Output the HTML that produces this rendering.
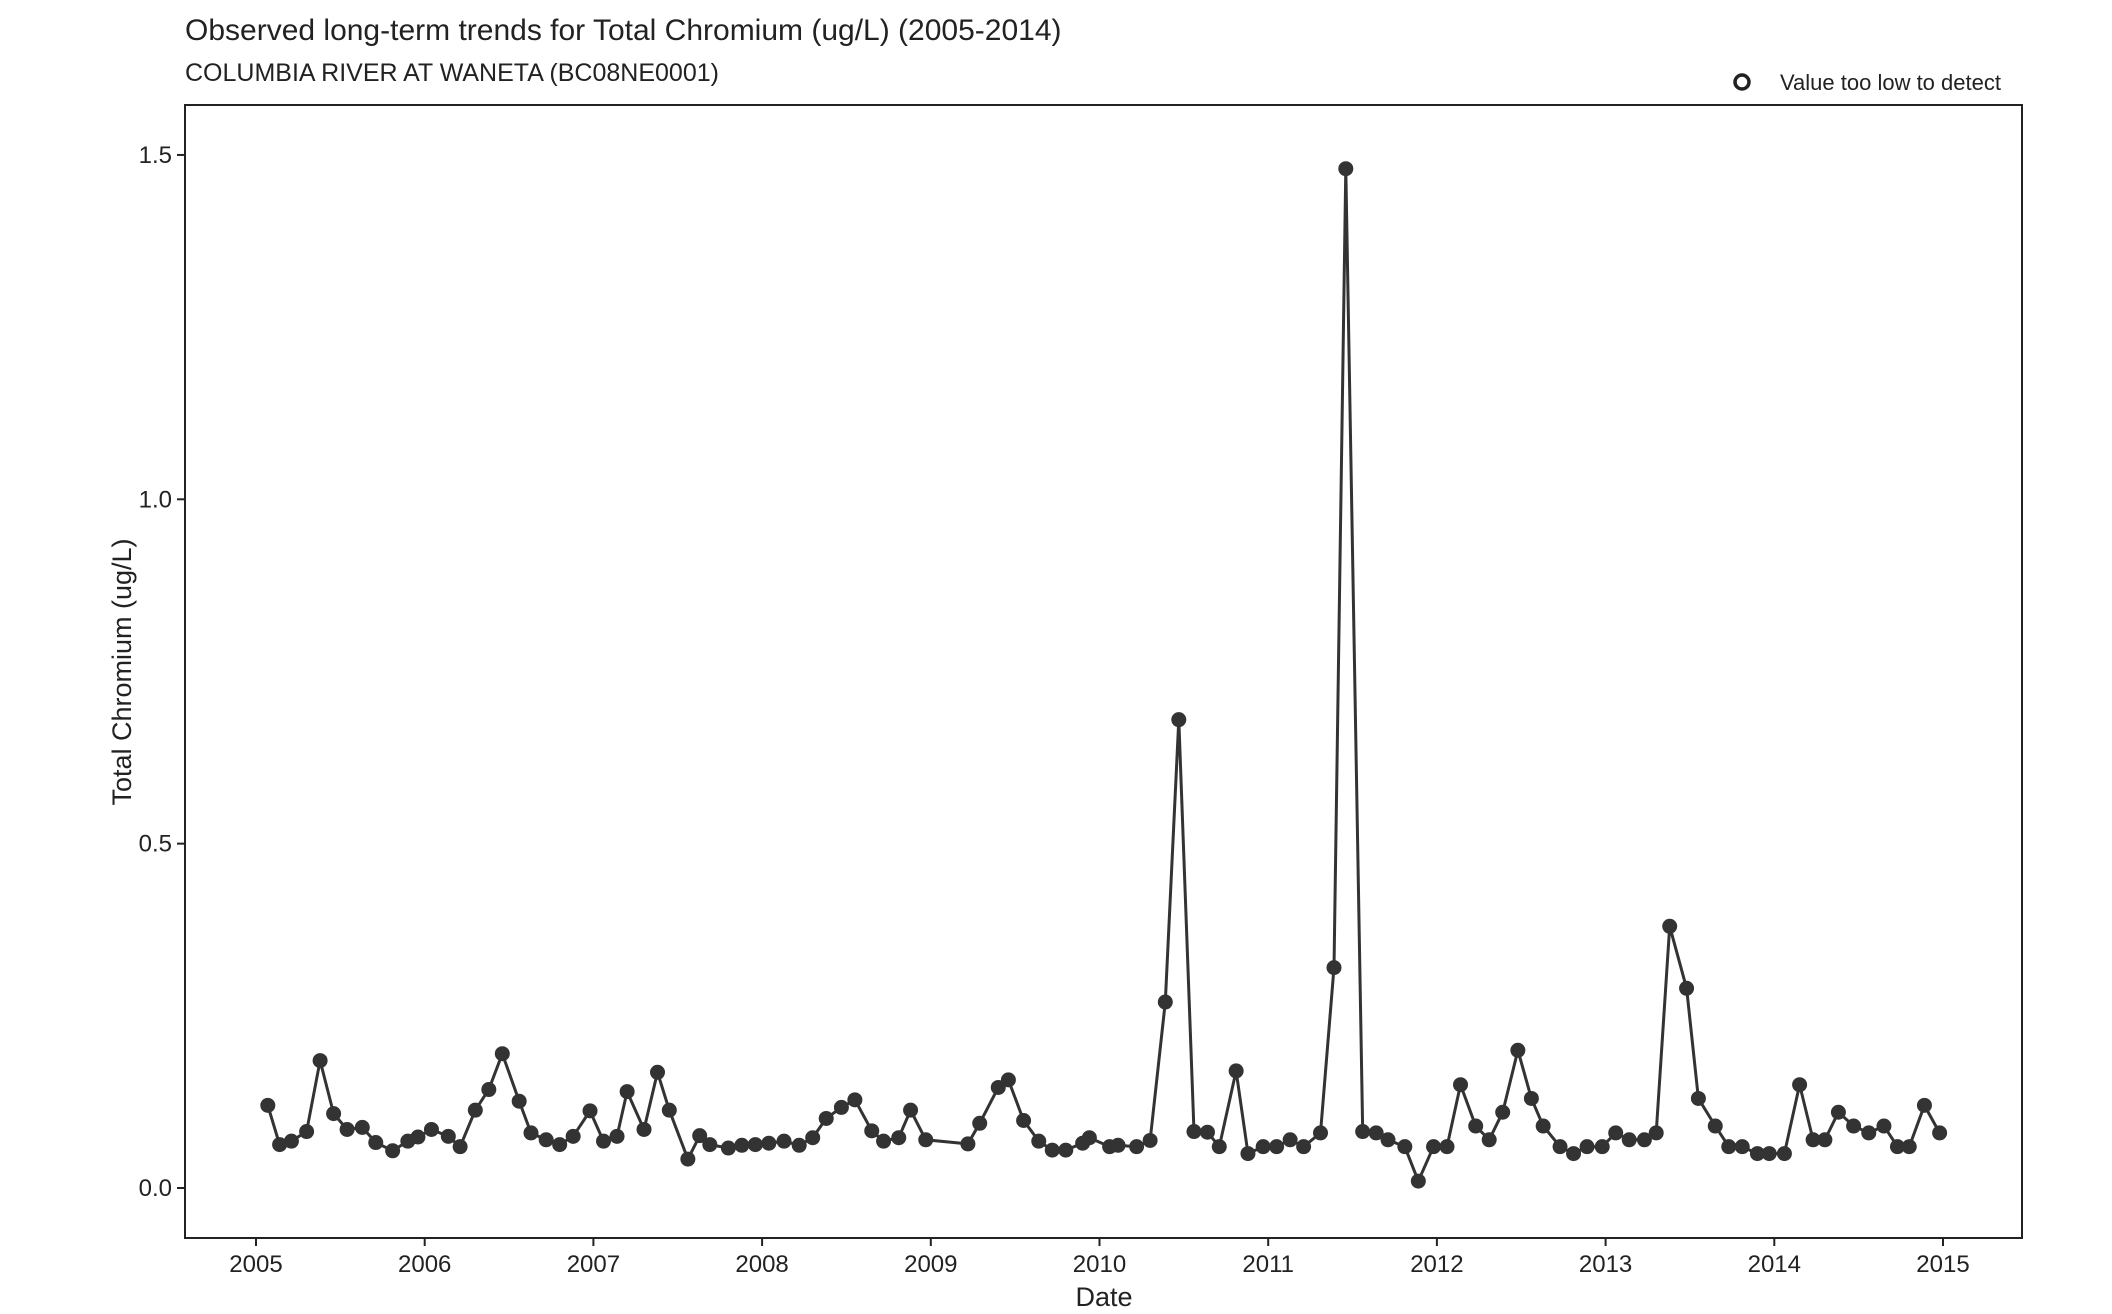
<!DOCTYPE html>
<html><head><meta charset="utf-8"><style>
body{margin:0;background:#fff;}
svg text{font-family:"Liberation Sans",sans-serif;fill:#222;}
</style></head><body>
<svg width="2112" height="1309" viewBox="0 0 2112 1309" xmlns="http://www.w3.org/2000/svg">
<rect width="2112" height="1309" fill="#fff"/>
<text x="185" y="40" font-size="30">Observed long-term trends for Total Chromium (ug/L) (2005-2014)</text>
<text x="185" y="81" font-size="25">COLUMBIA RIVER AT WANETA (BC08NE0001)</text>
<g>
<circle cx="1742" cy="82" r="7" fill="#fff" stroke="#222" stroke-width="3.5"/>
<text x="1780" y="90" font-size="22">Value too low to detect</text>
</g>
<rect x="185" y="105" width="1837" height="1133" fill="none" stroke="#222" stroke-width="2"/>
<g id="axes"></g>
<g id="marks"></g>
<text x="1104" y="1306" font-size="27" text-anchor="middle">Date</text>
<text transform="translate(131,672) rotate(-90)" font-size="27" text-anchor="middle">Total Chromium (ug/L)</text>
</svg>
<script>
const dates=[2005.07,2005.14,2005.21,2005.30,2005.38,2005.46,2005.54,2005.63,2005.71,2005.81,2005.90,2005.96,2006.04,2006.14,2006.21,2006.30,2006.38,2006.46,2006.56,2006.63,2006.72,2006.80,2006.88,2006.98,2007.06,2007.14,2007.20,2007.30,2007.38,2007.45,2007.56,2007.63,2007.69,2007.80,2007.88,2007.96,2008.04,2008.13,2008.22,2008.30,2008.38,2008.47,2008.55,2008.65,2008.72,2008.81,2008.88,2008.97,2009.22,2009.29,2009.40,2009.46,2009.55,2009.64,2009.72,2009.80,2009.90,2009.94,2010.06,2010.11,2010.22,2010.30,2010.39,2010.47,2010.56,2010.64,2010.71,2010.81,2010.88,2010.97,2011.05,2011.13,2011.21,2011.31,2011.39,2011.46,2011.56,2011.64,2011.71,2011.81,2011.89,2011.98,2012.06,2012.14,2012.23,2012.31,2012.39,2012.48,2012.56,2012.63,2012.73,2012.81,2012.89,2012.98,2013.06,2013.14,2013.23,2013.30,2013.38,2013.48,2013.55,2013.65,2013.73,2013.81,2013.90,2013.97,2014.06,2014.15,2014.23,2014.30,2014.38,2014.47,2014.56,2014.65,2014.73,2014.80,2014.89,2014.98];
const values=[0.12,0.063,0.068,0.082,0.185,0.108,0.085,0.088,0.066,0.054,0.068,0.074,0.085,0.075,0.06,0.113,0.143,0.195,0.126,0.08,0.07,0.063,0.075,0.112,0.068,0.075,0.14,0.085,0.168,0.113,0.042,0.076,0.063,0.058,0.062,0.063,0.065,0.068,0.062,0.073,0.101,0.117,0.128,0.083,0.068,0.073,0.113,0.07,0.064,0.094,0.146,0.157,0.098,0.068,0.055,0.055,0.065,0.073,0.06,0.062,0.06,0.069,0.27,0.68,0.082,0.081,0.06,0.17,0.05,0.06,0.06,0.07,0.06,0.08,0.32,1.48,0.082,0.08,0.07,0.06,0.01,0.06,0.06,0.15,0.09,0.07,0.11,0.2,0.13,0.09,0.06,0.05,0.06,0.06,0.08,0.07,0.07,0.08,0.38,0.29,0.13,0.09,0.06,0.06,0.05,0.05,0.05,0.15,0.07,0.07,0.11,0.09,0.08,0.09,0.06,0.06,0.12,0.08];
const xTicks=[2005,2006,2007,2008,2009,2010,2011,2012,2013,2014,2015];
const yTicks=[0,0.5,1.0,1.5];
const yTickLabels=["0.0","0.5","1.0","1.5"];
const NS="http://www.w3.org/2000/svg";
function xs(d){return 256+(d-2005)*168.7;}
function ys(v){return 1188-v*688.7;}
function mk(tag,attrs,parent){const e=document.createElementNS(NS,tag);for(const k in attrs)e.setAttribute(k,attrs[k]);parent.appendChild(e);return e;}
const axes=document.getElementById('axes');
xTicks.forEach(t=>{
  const l=mk('line',{x1:xs(t),x2:xs(t),y1:1238,y2:1246,stroke:'#222','stroke-width':2},axes);
  
  
  const tx=mk('text',{x:xs(t),y:1272,'font-size':24,'text-anchor':'middle'},axes);
  
  
  tx.textContent=t;
});
yTicks.forEach((t,i)=>{
  const l=mk('line',{x1:177,x2:185,y1:ys(t),y2:ys(t),stroke:'#222','stroke-width':2},axes);
  
  
  const tx=mk('text',{x:172,y:ys(t)+8,'font-size':24,'text-anchor':'end'},axes);
  
  
  tx.textContent=yTickLabels[i];
});
const marks=document.getElementById('marks');
const pts=dates.map((d,i)=>xs(d).toFixed(1)+','+ys(values[i]).toFixed(1)).join(' ');
const pl=mk('polyline',{points:pts,fill:'none',stroke:'#333','stroke-width':3},marks);


dates.forEach((d,i)=>{
  const c=mk('circle',{cx:xs(d),cy:ys(values[i]),r:7.5,fill:'#333'},marks);
  
  
});
</script>
</body></html>
